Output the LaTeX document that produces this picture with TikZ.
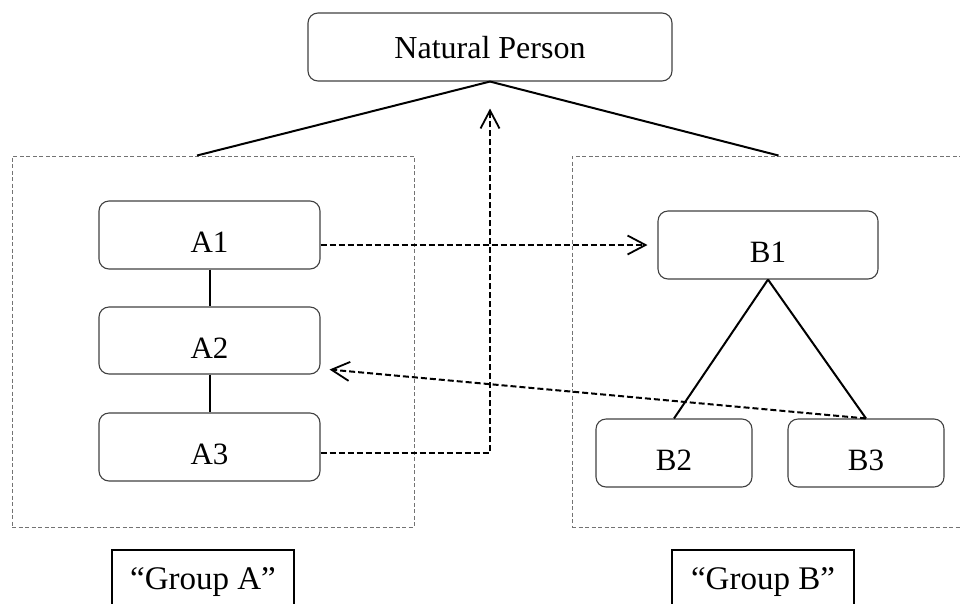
\documentclass[tikz,border=0pt]{standalone}
\usepackage{fontspec}
\setmainfont{Liberation Serif}
\usetikzlibrary{arrows.meta}
\begin{document}
\begin{tikzpicture}[x=1pt, y=-1pt,
  box/.style={draw=black!75, rounded corners=10pt, line width=1.1pt, inner sep=0pt, font=\fontsize{31}{37}\selectfont, text height=35pt, text depth=0pt},
  group/.style={draw=black!55, dash pattern=on 4pt off 2.5pt, line width=1pt, inner sep=0pt},
  tag/.style={draw, line width=1.5pt, inner sep=0pt, minimum width=182pt, minimum height=64pt, font=\fontsize{33}{39}\selectfont},
  link/.style={line width=2pt},
  flow/.style={line width=2pt, dash pattern=on 6pt off 3pt, -{Straight Barb[length=18pt,width=19pt,line width=1.8pt]}}]
\useasboundingbox (0,0) rectangle (960,603);
% top box
\node[box, minimum width=364pt, minimum height=68pt, text height=22pt, font=\fontsize{32}{38}\selectfont] (np) at (490,47) {Natural Person};
% group frames
\node[group, minimum width=402pt, minimum height=371pt] (grpa) at (213,341.5) {};
\node[group, minimum width=413pt, minimum height=371pt] (grpb) at (778.5,341.5) {};
% group A
\node[box, minimum width=221pt, minimum height=68pt] (a1) at (209.5,235) {A1};
\node[box, minimum width=221pt, minimum height=67pt] (a2) at (209.5,340.5) {A2};
\node[box, minimum width=221pt, minimum height=68pt] (a3) at (209.5,447) {A3};
% group B
\node[box, minimum width=220pt, minimum height=68pt] (b1) at (768,245) {B1};
\node[box, minimum width=156pt, minimum height=68pt] (b2) at (674,453) {B2};
\node[box, minimum width=156pt, minimum height=68pt] (b3) at (866,453) {B3};
% labels
\node[tag] (taga) at (203,582) {“Group A”};
\node[tag] (tagb) at (763,582) {“Group B”};
% solid links
\draw[link] (np.south) -- ([xshift=-16pt]grpa.north);
\draw[link] (np.south) -- (grpb.north);
\draw[link] (a1) -- (a2);
\draw[link] (a2) -- (a3);
\draw[link] (b1.south) -- (b2.north);
\draw[link] (b1.south) -- (b3.north);
% dashed flows
\draw[flow, shorten >=10pt] (a1.east |- b1.west) -- (b1.west);
\draw[flow, shorten >=27pt] ([yshift=-6pt]a3.east) -| (np.south);
\draw[flow] (b3.north) -- ([shift={(9,-5)}]a2.south east);
\end{tikzpicture}
\end{document}
